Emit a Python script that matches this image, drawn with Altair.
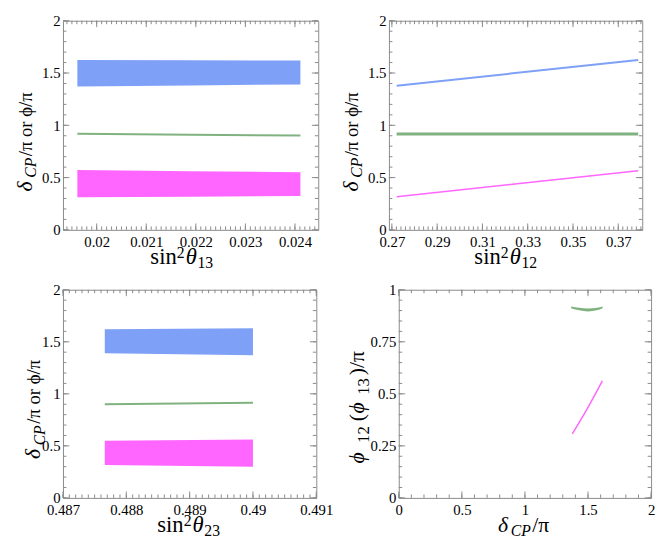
import altair as alt
import pandas as pd
import numpy as np

FONT = "Liberation Serif, Times New Roman, serif"
FRAME = "#8a8a8a"
BLUE = "#7fa0f7"
MAGENTA = "#ff66ff"
GREEN = "#80b280"

# ---------------- data ----------------
# Panel 1 : vs sin^2 theta13
p1_x = [0.01961, 0.0219, 0.02411]
p1_blue_top = [1.624, 1.621, 1.619]
p1_blue_bot = [1.370, 1.381, 1.391]
p1_green = [0.920, 0.910, 0.902]
p1_mag_top = [0.572, 0.561, 0.551]
p1_mag_bot = [0.311, 0.317, 0.323]

# Panel 2 : vs sin^2 theta12
p2_x = [0.2721, 0.3788]
p2_blue = [1.379, 1.624]
p2_green = [0.917, 0.917]
p2_mag = [0.317, 0.565]

# Panel 3 : vs sin^2 theta23
p3_x = [0.48766, 0.4900]
p3_blue_top = [1.621, 1.631]
p3_blue_bot = [1.389, 1.370]
p3_green = [0.899, 0.914]
p3_mag_top = [0.549, 0.561]
p3_mag_bot = [0.316, 0.300]

# Panel 4 : phi vs delta_CP
p4_green_x = [1.366, 1.43, 1.5, 1.57, 1.616]
p4_green_top = [0.919, 0.913, 0.910, 0.913, 0.919]
p4_green_bot = [0.911, 0.901, 0.896, 0.901, 0.911]
p4_mag_x = [1.376, 1.5, 1.614]
p4_mag_y = [0.308, 0.435, 0.562]

# tick values
y_major = [0, 0.5, 1, 1.5, 2]
y_minor_step = 0.1
x1_major = [0.02, 0.021, 0.022, 0.023, 0.024]
x1_minor_step = 0.0001
x2_major = [0.27, 0.29, 0.31, 0.33, 0.35, 0.37]
x2_minor_step = 0.002
x3_major = [0.487, 0.488, 0.489, 0.49, 0.491]
x3_minor_step = 0.0001
x4_major = [0, 0.5, 1, 1.5, 2]
x4_minor_step = 0.1
y4_major = [0, 0.25, 0.5, 0.75, 1]
y4_minor_step = 0.05


def minor(dom, step):
    n0 = int(np.ceil(dom[0] / step - 1e-9))
    n1 = int(np.floor(dom[1] / step + 1e-9))
    return [round(k * step, 8) for k in range(n0, n1 + 1)]


def text_piece(txt, x, y, dx, dy, size, italic, angle=0):
    return alt.Chart(pd.DataFrame({"t": [txt]})).mark_text(
        text=txt, font=FONT, fontSize=size,
        fontStyle="italic" if italic else "normal",
        align="left", baseline="alphabetic", angle=angle,
        dx=dx, dy=dy, color="black",
    ).encode(x=alt.value(x), y=alt.value(y))


def panel(W, H, xdom, ydom, xmaj, xstep, ymaj, ystep, marks, xtitle, ytitle):
    xs = alt.Scale(domain=xdom, nice=False, zero=False)
    ys = alt.Scale(domain=ydom, nice=False, zero=False)
    common = dict(labelExpr="toString(datum.value)", ticks=False, domain=False,
                  grid=False, title=None,
                  labelFont=FONT, labelFontSize=15, labelColor="black",
                  labelFlush=False, labelOverlap=False)
    xaxis = alt.Axis(values=xmaj, labelPadding=5, **common)
    yaxis = alt.Axis(values=ymaj, labelPadding=3, **common)
    X = lambda f: alt.X(f + ":Q", scale=xs, axis=xaxis)
    Y = lambda f: alt.Y(f + ":Q", scale=ys, axis=yaxis)

    layers = []
    for kind, df, color, extra in marks:
        if kind == "area":
            layers.append(alt.Chart(df).mark_area(color=color, opacity=1, **extra)
                          .encode(x=X("x"), y=Y("top"), y2="bot"))
        else:
            layers.append(alt.Chart(df).mark_line(color=color, **extra)
                          .encode(x=X("x"), y=Y("y")))

    def xt(vals, L):
        df = pd.DataFrame({"x": [v for v in vals if xdom[0] <= v <= xdom[1]]})
        return [
            alt.Chart(df).mark_rule(color=FRAME, strokeWidth=1).encode(
                x=X("x"), y=alt.value(H), y2=alt.value(H - L)),
            alt.Chart(df).mark_rule(color=FRAME, strokeWidth=1).encode(
                x=X("x"), y=alt.value(0), y2=alt.value(L)),
        ]

    def yt(vals, L):
        df = pd.DataFrame({"y": [v for v in vals if ydom[0] <= v <= ydom[1]]})
        return [
            alt.Chart(df).mark_rule(color=FRAME, strokeWidth=1).encode(
                y=Y("y"), x=alt.value(0), x2=alt.value(L)),
            alt.Chart(df).mark_rule(color=FRAME, strokeWidth=1).encode(
                y=Y("y"), x=alt.value(W), x2=alt.value(W - L)),
        ]

    layers += xt(minor(xdom, xstep), 3.5) + xt(xmaj, 6.5)
    layers += yt(minor(ydom, ystep), 3.5) + yt(ymaj, 6.5)

    ax, ay, pieces = xtitle
    for txt, size, ital, dx, dy in pieces:
        layers.append(text_piece(txt, ax, ay, dx, dy, size, ital))
    ax, ay, pieces = ytitle
    for txt, size, ital, dx, dy in pieces:
        layers.append(text_piece(txt, ax, ay, dx, dy, size, ital, angle=270))

    return alt.layer(*layers).properties(width=W, height=H)


def band(xv, top, bot):
    return pd.DataFrame({"x": xv, "top": top, "bot": bot})


def line(xv, yv):
    return pd.DataFrame({"x": xv, "y": yv})


ytitle_std = [("δ", 22, True, 0, 0), ("CP", 16, True, 14, 5), ("/π or ϕ/π", 19, False, 36, 0)]


def sin_title(sub):
    return [("sin", 23, False, 0, 0), ("2", 16, False, 27, -6.5),
            ("θ", 23, True, 36, 0), (sub, 16, False, 48, 4)]


H1, H2 = 213, 212
TB = 35  # x-title baseline below plot

p1 = panel(260, H1, [0.01932, 0.02447], [0, 2], x1_major, x1_minor_step, y_major, y_minor_step,
           [("area", band(p1_x, p1_blue_top, p1_blue_bot), BLUE, {}),
            ("line", line(p1_x, p1_green), GREEN, {"strokeWidth": 2}),
            ("area", band(p1_x, p1_mag_top, p1_mag_bot), MAGENTA, {})],
           (89, H1 + TB, sin_title("13")), (-32, 174, ytitle_std))

p2 = panel(258, H1, [0.2687, 0.3806], [0, 2], x2_major, x2_minor_step, y_major, y_minor_step,
           [("line", line(p2_x, p2_blue), BLUE, {"strokeWidth": 2}),
            ("line", line(p2_x, p2_green), GREEN, {"strokeWidth": 3}),
            ("line", line(p2_x, p2_mag), MAGENTA, {"strokeWidth": 1.5})],
           (87, H1 + TB, sin_title("12")), (-32, 174, ytitle_std))

p3 = panel(258, H2, [0.487, 0.491], [0, 2], x3_major, x3_minor_step, y_major, y_minor_step,
           [("area", band(p3_x, p3_blue_top, p3_blue_bot), BLUE, {}),
            ("line", line(p3_x, p3_green), GREEN, {"strokeWidth": 2}),
            ("area", band(p3_x, p3_mag_top, p3_mag_bot), MAGENTA, {})],
           (96, H2 + TB, sin_title("23")), (-23, 172.5, ytitle_std))

p4 = panel(257, H2, [0, 2], [0, 1], x4_major, x4_minor_step, y4_major, y4_minor_step,
           [("area", band(p4_green_x, p4_green_top, p4_green_bot), GREEN, {"interpolate": "monotone"}),
            ("line", line(p4_mag_x, p4_mag_y), MAGENTA, {"strokeWidth": 1.5, "interpolate": "monotone"})],
           (101, H2 + TB, [("δ", 22, True, 0, 0), ("CP", 16, True, 13, 4), ("/π", 22, False, 35, 0)]),
           (-35, 177, [("ϕ", 22, True, 0, 0), ("12", 17, False, 21, 5), ("(", 22, False, 43, 0),
                       ("ϕ", 22, True, 51, 0), ("13", 17, False, 70, 5), (")/π", 22, False, 90, 0)]))

chart = alt.vconcat(
    alt.hconcat(p1, p2, spacing=20),
    alt.hconcat(p3, p4, spacing=12),
    spacing=10,
).configure_view(stroke=FRAME, strokeWidth=1).properties(
    padding={"left": 5, "top": 0, "right": 0, "bottom": 0},
    background="white",
)

chart.save("out.html", embed_options={"renderer": "svg", "actions": False})
